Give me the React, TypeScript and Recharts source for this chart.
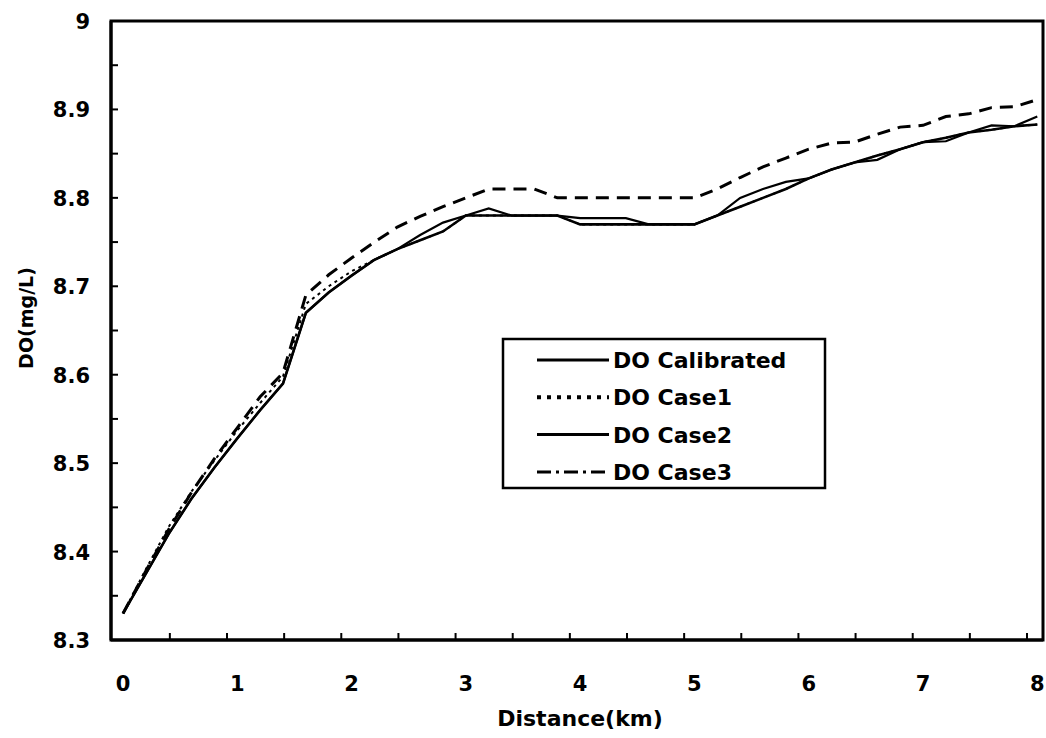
import React from 'react';
import { LineChart, Line, XAxis, YAxis, ReferenceArea } from 'recharts';

// Distance along the reach (km), one sample every 0.2 km
const distanceKm = [
  0, 0.2, 0.4, 0.6, 0.8, 1.0, 1.2, 1.4, 1.6, 1.8, 2.0, 2.2, 2.4, 2.6, 2.8, 3.0, 3.2, 3.4, 3.6, 3.8, 4.0,
  4.2, 4.4, 4.6, 4.8, 5.0, 5.2, 5.4, 5.6, 5.8, 6.0, 6.2, 6.4, 6.6, 6.8, 7.0, 7.2, 7.4, 7.6, 7.8, 8.0,
];

// Dissolved oxygen (mg/L)
const doCalibrated = [
  8.33, 8.375, 8.42, 8.46, 8.495, 8.528, 8.56, 8.59, 8.67, 8.693, 8.712, 8.73, 8.742, 8.752, 8.762, 8.78,
  8.78, 8.78, 8.78, 8.78, 8.77, 8.77, 8.77, 8.77, 8.77, 8.77, 8.78, 8.79, 8.8, 8.81, 8.822, 8.832, 8.84,
  8.848, 8.855, 8.863, 8.868, 8.874, 8.877, 8.881, 8.883,
];
const doCase1 = [
  8.33, 8.38, 8.428, 8.468, 8.503, 8.537, 8.568, 8.598, 8.68, 8.7, 8.717, 8.73, 8.742, 8.752, 8.762, 8.78,
  8.78, 8.78, 8.78, 8.78, 8.77, 8.77, 8.77, 8.77, 8.77, 8.77, 8.78, 8.79, 8.8, 8.81, 8.822, 8.832, 8.84,
  8.848, 8.855, 8.863, 8.868, 8.874, 8.877, 8.881, 8.883,
];
const doCase2 = [
  8.33, 8.375, 8.42, 8.46, 8.495, 8.528, 8.56, 8.59, 8.67, 8.693, 8.712, 8.73, 8.742, 8.758, 8.772, 8.78,
  8.788, 8.78, 8.78, 8.78, 8.777, 8.777, 8.777, 8.77, 8.77, 8.77, 8.78, 8.8, 8.81, 8.818, 8.822, 8.832, 8.84,
  8.843, 8.855, 8.863, 8.864, 8.874, 8.882, 8.881, 8.892,
];
const doCase3 = [
  8.33, 8.378, 8.425, 8.467, 8.505, 8.54, 8.575, 8.602, 8.69, 8.713, 8.732, 8.75, 8.767, 8.779, 8.79, 8.8,
  8.81, 8.81, 8.81, 8.8, 8.8, 8.8, 8.8, 8.8, 8.8, 8.8, 8.81, 8.823, 8.835, 8.845, 8.855, 8.862, 8.863,
  8.872, 8.88, 8.882, 8.892, 8.895, 8.902, 8.903, 8.911,
];

// Axis ticks
const xTickLabels = [0, 1, 2, 3, 4, 5, 6, 7, 8];
const xMinorTicks = [
  0.41, 0.91, 1.41, 1.91, 2.41, 2.91, 3.41, 3.91, 4.41, 4.91, 5.41, 5.91, 6.41, 6.91, 7.41, 7.91,
];
const yTicks = [8.3, 8.35, 8.4, 8.45, 8.5, 8.55, 8.6, 8.65, 8.7, 8.75, 8.8, 8.85, 8.9, 8.95, 9];
const yTickLabels = ['8.3', '8.4', '8.5', '8.6', '8.7', '8.8', '8.9', '9'];

const seriesNames = ['DO Calibrated', 'DO Case1', 'DO Case2', 'DO Case3'];

const rows = distanceKm.map((d, i) => ({
  d,
  cal: doCalibrated[i],
  c1: doCase1[i],
  c2: doCase2[i],
  c3: doCase3[i],
}));

const FONT = '"DejaVu Sans", "Liberation Sans", Arial, sans-serif';

const xTicksAll = [...xTickLabels, ...xMinorTicks].sort((a, b) => a - b);

const XTick = (props: any) => {
  const { x, y, payload } = props;
  const v = payload.value;
  if (xTickLabels.includes(v)) {
    return (
      <text x={x} y={y + 51} textAnchor="middle" fontFamily={FONT} fontWeight="bold" fontSize={21} fill="#000">
        {String(v)}
      </text>
    );
  }
  return <line x1={x} y1={y} x2={x} y2={y - 7} stroke="#000" strokeWidth={2} />;
};

const YTick = (props: any) => {
  const { x, y, payload } = props;
  const v = payload.value;
  const label = yTickLabels.find((t) => Math.abs(parseFloat(t) - v) < 1e-6);
  return (
    <g>
      {v > 8.3 && v < 9 && <line x1={x} y1={y} x2={x + 7} y2={y} stroke="#000" strokeWidth={2} />}
      {label && (
        <text x={x - 21} y={y + 8} textAnchor="end" fontFamily={FONT} fontWeight="bold" fontSize={21} fill="#000">
          {label}
        </text>
      )}
    </g>
  );
};

const legendRows = [
  { name: seriesNames[0], dash: undefined, width: 3 },
  { name: seriesNames[1], dash: '4 6', width: 4 },
  { name: seriesNames[2], dash: undefined, width: 3 },
  { name: seriesNames[3], dash: '14 5 3 5', width: 3 },
];

export default function App() {
  return (
    <div style={{ position: 'absolute', left: 0, top: 0, width: 1046, height: 738, background: '#fff' }}>
      <LineChart width={1046} height={738} data={rows} margin={{ top: 21, right: 3, bottom: 48, left: 0 }}>
        <XAxis
          dataKey="d"
          type="number"
          domain={[-0.105, 8.05]}
          allowDataOverflow
          ticks={xTicksAll}
          interval={0}
          tick={<XTick />}
          tickLine={false}
          tickSize={0}
          tickMargin={0}
          height={50}
          axisLine={{ stroke: '#000', strokeWidth: 3 }}
          label={{
            content: () => (
              <text x={580} y={726} textAnchor="middle" fontFamily={FONT} fontWeight="bold" fontSize={22} fill="#000">
                Distance(km)
              </text>
            ),
          }}
        />
        <YAxis
          type="number"
          domain={[8.3, 9]}
          allowDataOverflow
          ticks={yTicks}
          interval={0}
          tick={<YTick />}
          tickLine={false}
          tickSize={0}
          tickMargin={0}
          width={111}
          axisLine={{ stroke: '#000', strokeWidth: 3 }}
          label={{
            content: () => (
              <text
                x={33}
                y={318}
                transform="rotate(-90 33 318)"
                textAnchor="middle"
                fontFamily={FONT}
                fontWeight="bold"
                fontSize={19}
                fill="#000"
              >
                DO(mg/L)
              </text>
            ),
          }}
        />
        <ReferenceArea x1={-0.105} x2={8.05} y1={8.3} y2={9} fill="none" stroke="#000" strokeWidth={3} ifOverflow="visible" />
        <Line dataKey="c1" name={seriesNames[1]} type="linear" stroke="#000" strokeWidth={2} strokeDasharray="3 4" dot={false} isAnimationActive={false} />
        <Line dataKey="c3" name={seriesNames[3]} type="linear" stroke="#000" strokeWidth={3} strokeDasharray="13 8" dot={false} isAnimationActive={false} />
        <Line dataKey="c2" name={seriesNames[2]} type="linear" stroke="#000" strokeWidth={2.2} dot={false} isAnimationActive={false} />
        <Line dataKey="cal" name={seriesNames[0]} type="linear" stroke="#000" strokeWidth={2.6} dot={false} isAnimationActive={false} />
      </LineChart>
      <svg width={1046} height={738} style={{ position: 'absolute', left: 0, top: 0, pointerEvents: 'none' }}>
        <rect x={503} y={339} width={322} height={149} fill="#fff" stroke="#000" strokeWidth={2.5} />
        {legendRows.map((r, i) => {
          const cy = 360 + i * 37.3;
          return (
            <g key={r.name}>
              <line x1={537} y1={cy} x2={609} y2={cy} stroke="#000" strokeWidth={r.width} strokeDasharray={r.dash} />
              <text x={613} y={cy + 8} fontFamily={FONT} fontWeight="bold" fontSize={22} fill="#000">
                {r.name}
              </text>
            </g>
          );
        })}
      </svg>
    </div>
  );
}
